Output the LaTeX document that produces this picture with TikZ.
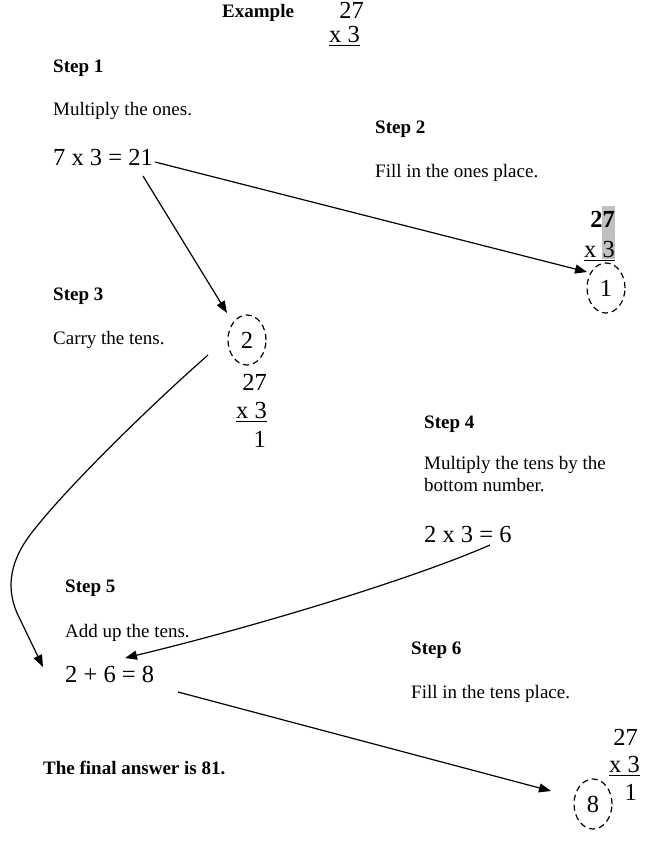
\documentclass[tikz,border=0pt]{standalone}
\usepackage{fontspec}
\setmainfont{Liberation Serif}
\usetikzlibrary{arrows.meta,shapes.geometric}
\definecolor{hl}{RGB}{192,192,192}
\begin{document}
\begin{tikzpicture}[x=1pt,y=-1pt,
  txt/.style={font=\fontsize{19}{22}\selectfont, anchor=base west, inner sep=0pt},
  hd/.style={font=\fontsize{19}{22}\selectfont\bfseries, anchor=base west, inner sep=0pt},
  num/.style={font=\fontsize{24.5}{28}\selectfont, inner sep=0pt},
  circ/.style={ellipse, draw, dash pattern=on 6pt off 4pt, line width=1.2pt, minimum width=38pt, minimum height=50pt, inner sep=0pt, font=\fontsize{24.5}{28}\selectfont},
  arr/.style={line width=1.2pt, -{Triangle[length=12pt,width=9pt]}},
  uline/.style={line width=1pt}]
\useasboundingbox (0,0) rectangle (649,842);

% header
\node[hd] (ex) at (222,18) {Example};
\node[num, anchor=base east] (ex27) at (364,19) {27};
\node[num, anchor=base east] (ex3) at (360,43) {x 3};
\draw[uline] ([yshift=-3pt]ex3.base west) -- ([yshift=-3pt]ex3.base east);

% step 1
\node[hd] (s1) at (53,73) {Step 1};
\node[txt] (s1t) at (53,116) {Multiply the ones.};
\node[num, anchor=base west] (eq1) at (53,166) {7 x 3 = 21};

% step 2
\node[hd] (s2) at (375,134) {Step 2};
\node[txt] (s2t) at (375,178) {Fill in the ones place.};
\fill[hl] (602,206) rectangle (615,259);
\node[num, font=\fontsize{24.5}{28}\selectfont\bfseries, anchor=base east] (b27) at (615,227) {27};
\node[num, anchor=base east] (b3) at (615,257) {x 3};
\draw[uline] ([yshift=-3pt]b3.base west) -- ([yshift=-3pt]b3.base east);
\node[circ] (c1) at (606,288) {1};

% step 3
\node[hd] (s3) at (53,300) {Step 3};
\node[txt] (s3t) at (53,344) {Carry the tens.};
\node[circ] (c2) at (247,340) {2};
\node[num, anchor=base east] (t27) at (267,390) {27};
\node[num, anchor=base east] (t3) at (267,418) {x 3};
\draw[uline] ([yshift=-3.5pt]t3.base west) -- ([yshift=-3.5pt]t3.base east);
\node[num, anchor=base east] (t1) at (266,447) {1};

% step 4
\node[hd] (s4) at (424,428) {Step 4};
\node[txt] (s4t) at (424,469) {Multiply the tens by the};
\node[txt] (s4u) at (424,491) {bottom number.};
\node[num, anchor=base west] (eq2) at (424,542) {2 x 3 = 6};

% step 5
\node[hd] (s5) at (65,592) {Step 5};
\node[txt] (s5t) at (65,637) {Add up the tens.};
\node[num, anchor=base west] (eq3) at (65,682) {2 + 6 = 8};

% step 6
\node[hd] (s6) at (411,654) {Step 6};
\node[txt] (s6t) at (411,698) {Fill in the tens place.};
\node[num, anchor=base east] (f27) at (638,745) {27};
\node[num, anchor=base east] (f3) at (640,772) {x 3};
\draw[uline] ([yshift=-3pt]f3.base west) -- ([yshift=-3pt]f3.base east);
\node[num, anchor=base east] (f1) at (637,800) {1};
\node[circ] (c3) at (593,804) {8};

% final
\node[hd] (fin) at (43,774) {The final answer is 81.};

% arrows
\coordinate (a1s) at (155,162);
\coordinate (a1e) at (587,272);
\coordinate (a2s) at (143,176);
\coordinate (a2e) at (227,313);
\coordinate (a3s) at (208,355);
\coordinate (a3m) at (30,535);
\coordinate (a3n) at (17,613);
\coordinate (a3e) at (43,667);
\coordinate (a4s) at (490,545);
\coordinate (a4e) at (125,658);
\coordinate (a5s) at (178,692);
\coordinate (a5e) at (551,791);

\draw[arr] (a1s) -- (a1e);
\draw[arr] (a2s) -- (a2e);
\draw[arr] (a3s) .. controls (140,415) and (60,495) .. (a3m) .. controls (12,559) and (5,585) .. (a3n) -- (a3e);
\draw[arr] (a4s) .. controls (410,580) and (250,628) .. (a4e);
\draw[arr] (a5s) -- (a5e);
\end{tikzpicture}
\end{document}
